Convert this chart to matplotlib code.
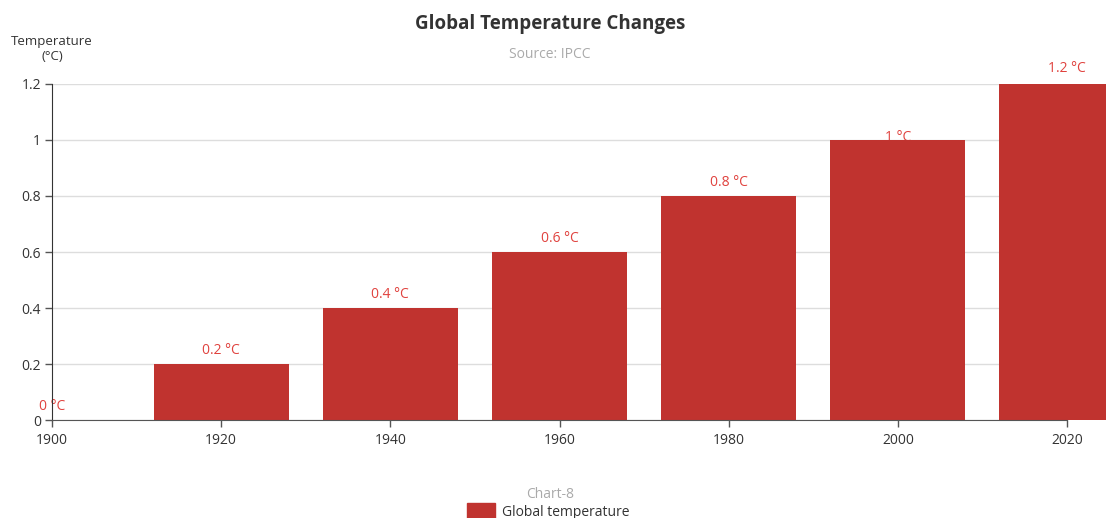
import matplotlib.pyplot as plt
from matplotlib.patches import Rectangle

plt.rcParams['font.family'] = ['Open Sans', 'DejaVu Sans']

years = [1900, 1920, 1940, 1960, 1980, 2000, 2020]
temps = [0, 0.2, 0.4, 0.6, 0.8, 1.0, 1.2]
labels = ['0 °C', '0.2 °C', '0.4 °C', '0.6 °C', '0.8 °C', '1 °C', '1.2 °C']
yticks = [0, 0.2, 0.4, 0.6, 0.8, 1.0, 1.2]
ytick_labels = ['0', '0.2', '0.4', '0.6', '0.8', '1', '1.2']

bar_color = '#c0332f'
label_color = '#e0423e'
# label offsets above the bar tops, in points
label_offsets = [10, 10, 10, 10, 10, 2, 11]

fig = plt.figure(figsize=(11.06, 5.18), dpi=100)
ax = fig.add_axes([52 / 1106, 98 / 518, 1015 / 1106, 336 / 518])

ax.bar(years, temps, width=16, color=bar_color, zorder=3, clip_on=False)
for x, v, lab, off in zip(years, temps, labels, label_offsets):
    ax.annotate(lab, (x, v), xytext=(0, off), textcoords='offset points',
                ha='center', va='center', color=label_color, fontsize=10,
                zorder=2, annotation_clip=False)

ax.set_xlim(1900, 2020)
ax.set_ylim(0, 1.2)
ax.set_xticks(years)
ax.set_yticks(yticks)
ax.set_yticklabels(ytick_labels)
ax.tick_params(axis='both', colors='#555555', labelcolor='#333333',
               labelsize=10, length=5, width=1)
ax.tick_params(axis='x', pad=4)
ax.tick_params(axis='y', pad=3)
ax.grid(axis='y', color='#dddddd', linewidth=1, zorder=0)
ax.set_axisbelow(True)
for side in ['top', 'right']:
    ax.spines[side].set_visible(False)
ax.spines['left'].set_color('#333333')
ax.spines['bottom'].set_color('#555555')
ax.spines['left'].set_zorder(4)
ax.spines['bottom'].set_zorder(4)

fig.text(550 / 1106, 1 - 24 / 518, 'Global Temperature Changes', ha='center',
         va='center', fontsize=13.5, fontweight='bold', color='#333333')
fig.text(550 / 1106, 1 - 54 / 518, 'Source: IPCC', ha='center', va='center',
         fontsize=10, color='#aaaaaa')
fig.text(52 / 1106, 1 - 49 / 518, 'Temperature\n(°C)', ha='center', va='center',
         fontsize=9.5, color='#333333', linespacing=1.1)

fig.text(550 / 1106, 1 - 494 / 518, 'Chart-8', ha='center', va='center',
         fontsize=10, color='#aaaaaa')
fig.patches.append(Rectangle((467 / 1106, 1 - 520 / 518), 28 / 1106, 17 / 518,
                             transform=fig.transFigure, color=bar_color,
                             figure=fig))
fig.text(502 / 1106, 1 - 512 / 518, 'Global temperature', ha='left',
         va='center', fontsize=10, color='#333333')

fig.savefig('out.png', dpi=100)
